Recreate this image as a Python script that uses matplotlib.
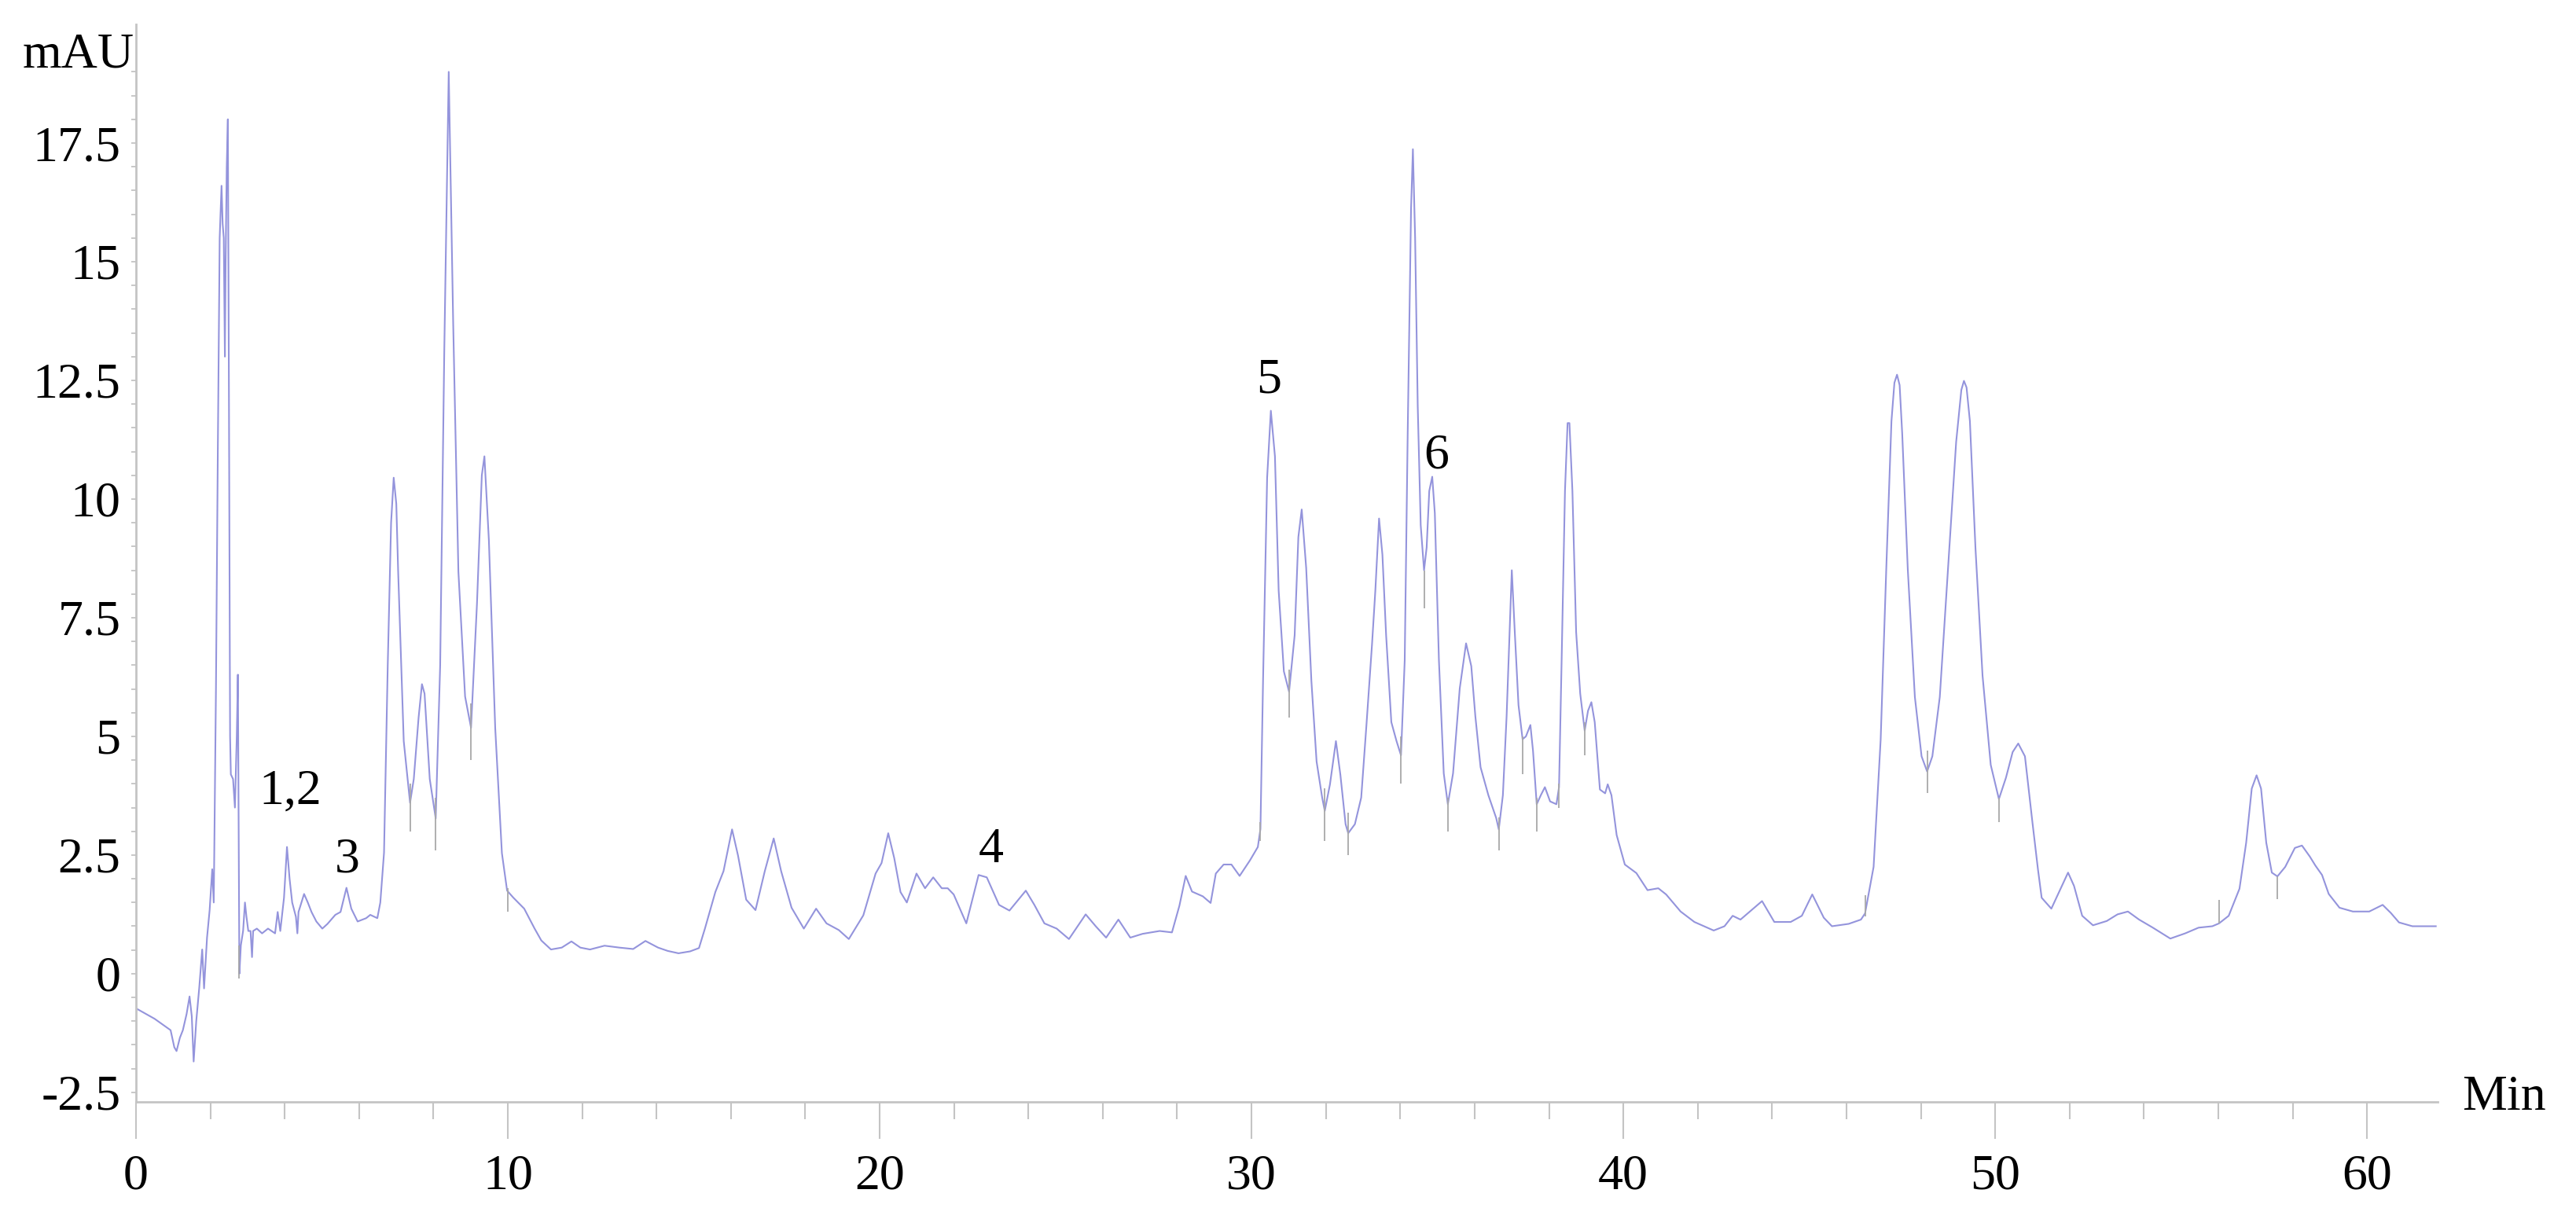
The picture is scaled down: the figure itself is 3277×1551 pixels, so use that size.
import matplotlib
matplotlib.use('Agg')
import matplotlib.pyplot as plt
from matplotlib.ticker import MultipleLocator, FixedLocator, FuncFormatter

# chromatogram trace (retention time in min, absorbance in mAU)
time_min = [
    0.00, 0.50, 0.93, 1.03, 1.09, 1.18, 1.26, 1.36, 1.44, 1.50,
    1.55, 1.62, 1.70, 1.78, 1.83, 1.91, 1.98, 2.05, 2.09, 2.10,
    2.15, 2.20, 2.25, 2.30, 2.33, 2.36, 2.39, 2.41, 2.44, 2.47,
    2.50, 2.53, 2.55, 2.61, 2.66, 2.71, 2.74, 2.76, 2.78, 2.82,
    2.88, 2.93, 2.97, 3.02, 3.08, 3.12, 3.15, 3.25, 3.39, 3.55,
    3.74, 3.81, 3.88, 3.98, 4.06, 4.13, 4.20, 4.30, 4.34, 4.37,
    4.52, 4.62, 4.72, 4.85, 5.01, 5.15, 5.36, 5.50, 5.66, 5.79,
    5.96, 6.19, 6.30, 6.49, 6.57, 6.67, 6.77, 6.86, 6.93, 7.00,
    7.05, 7.20, 7.37, 7.47, 7.60, 7.69, 7.76, 7.90, 8.06, 8.18,
    8.29, 8.41, 8.53, 8.67, 8.85, 9.01, 9.17, 9.30, 9.37, 9.49,
    9.66, 9.84, 9.98, 10.15, 10.44, 10.72, 10.90, 11.16, 11.45, 11.71,
    11.95, 12.21, 12.60, 13.00, 13.37, 13.70, 14.04, 14.30, 14.59, 14.90,
    15.14, 15.30, 15.58, 15.80, 16.03, 16.19, 16.41, 16.66, 16.91, 17.15,
    17.35, 17.63, 17.96, 18.29, 18.57, 18.90, 19.17, 19.56, 19.89, 20.05,
    20.23, 20.39, 20.56, 20.73, 20.99, 21.22, 21.44, 21.67, 21.83, 21.99,
    22.33, 22.66, 22.88, 23.21, 23.49, 23.93, 24.16, 24.43, 24.76, 25.09,
    25.54, 25.81, 26.09, 26.42, 26.74, 27.07, 27.53, 27.86, 28.06, 28.23,
    28.40, 28.69, 28.90, 29.04, 29.25, 29.46, 29.68, 29.96, 30.17, 30.24,
    30.31, 30.42, 30.52, 30.63, 30.73, 30.87, 31.01, 31.16, 31.26, 31.35,
    31.47, 31.61, 31.75, 31.90, 31.97, 32.11, 32.27, 32.39, 32.53, 32.60,
    32.78, 32.95, 33.09, 33.24, 33.33, 33.43, 33.52, 33.62, 33.76, 33.90,
    34.02, 34.12, 34.20, 34.29, 34.34, 34.40, 34.47, 34.55, 34.64, 34.71,
    34.78, 34.86, 34.93, 35.04, 35.17, 35.28, 35.42, 35.60, 35.77, 35.91,
    36.02, 36.16, 36.37, 36.58, 36.65, 36.76, 36.86, 36.94, 37.00, 37.08,
    37.18, 37.29, 37.38, 37.50, 37.57, 37.67, 37.78, 37.89, 38.03, 38.20,
    38.27, 38.34, 38.43, 38.50, 38.55, 38.63, 38.73, 38.84, 38.96, 39.05,
    39.14, 39.23, 39.37, 39.51, 39.58, 39.68, 39.82, 40.04, 40.35, 40.65,
    40.94, 41.15, 41.54, 41.91, 42.43, 42.72, 42.94, 43.15, 43.73, 44.06,
    44.50, 44.80, 45.08, 45.39, 45.61, 46.06, 46.39, 46.50, 46.73, 46.92,
    47.07, 47.21, 47.29, 47.36, 47.43, 47.50, 47.65, 47.84, 48.02, 48.17,
    48.31, 48.51, 48.73, 48.95, 49.09, 49.16, 49.23, 49.32, 49.47, 49.66,
    49.88, 50.10, 50.29, 50.47, 50.62, 50.80, 51.00, 51.15, 51.25, 51.51,
    51.76, 51.96, 52.12, 52.34, 52.63, 53.00, 53.29, 53.57, 53.87, 54.24,
    54.71, 55.11, 55.47, 55.84, 56.02, 56.28, 56.57, 56.75, 56.90, 57.03,
    57.15, 57.29, 57.44, 57.59, 57.80, 58.06, 58.25, 58.46, 58.61, 58.79,
    58.97, 59.26, 59.62, 60.06, 60.42, 60.64, 60.86, 61.22, 61.59, 61.85,
]
signal_mau = [
    -0.73, -0.95, -1.19, -1.55, -1.63, -1.35, -1.19, -0.85, -0.48, -0.90,
    -1.85, -1.00, -0.30, 0.51, -0.31, 0.76, 1.34, 2.20, 1.50, 2.20,
    6.00, 11.00, 15.50, 16.60, 15.80, 15.50, 13.00, 15.00, 17.00, 18.00,
    12.00, 5.00, 4.20, 4.10, 3.50, 5.00, 6.30, 3.00, 0.00, 0.60,
    0.90, 1.50, 1.20, 0.90, 0.90, 0.35, 0.90, 0.95, 0.85, 0.95,
    0.85, 1.30, 0.90, 1.60, 2.67, 2.00, 1.50, 1.20, 0.85, 1.30,
    1.68, 1.50, 1.30, 1.10, 0.95, 1.05, 1.24, 1.30, 1.81, 1.37,
    1.10, 1.17, 1.24, 1.17, 1.50, 2.55, 6.50, 9.50, 10.45, 9.90,
    8.47, 4.90, 3.60, 4.10, 5.40, 6.10, 5.90, 4.10, 3.27, 6.50,
    13.10, 19.00, 13.70, 8.47, 5.84, 5.18, 7.80, 10.50, 10.90, 9.13,
    5.18, 2.54, 1.75, 1.60, 1.37, 0.95, 0.70, 0.51, 0.55, 0.68,
    0.55, 0.51, 0.59, 0.55, 0.52, 0.69, 0.55, 0.48, 0.43, 0.47,
    0.54, 0.95, 1.72, 2.16, 3.04, 2.49, 1.56, 1.34, 2.16, 2.85,
    2.16, 1.39, 0.95, 1.37, 1.06, 0.92, 0.73, 1.23, 2.11, 2.33,
    2.96, 2.44, 1.72, 1.50, 2.11, 1.80, 2.03, 1.80, 1.80, 1.67,
    1.06, 2.08, 2.03, 1.45, 1.33, 1.75, 1.45, 1.06, 0.95, 0.73,
    1.25, 1.00, 0.76, 1.14, 0.76, 0.84, 0.90, 0.87, 1.43, 2.06,
    1.73, 1.63, 1.49, 2.11, 2.30, 2.30, 2.06, 2.39, 2.67, 3.05,
    6.17, 10.45, 11.86, 10.90, 8.07, 6.37, 5.94, 7.13, 9.20, 9.78,
    8.55, 6.17, 4.47, 3.71, 3.43, 3.99, 4.90, 4.19, 3.15, 2.96,
    3.15, 3.71, 5.23, 6.93, 8.07, 9.59, 8.83, 7.13, 5.30, 4.90,
    4.60, 6.60, 11.37, 16.10, 17.37, 15.50, 11.96, 9.45, 8.50, 8.98,
    10.17, 10.47, 9.70, 6.60, 4.22, 3.57, 4.22, 6.01, 6.96, 6.48,
    5.42, 4.35, 3.76, 3.28, 3.04, 3.76, 5.42, 7.20, 8.50, 7.20,
    5.66, 4.94, 5.00, 5.24, 4.70, 3.57, 3.76, 3.93, 3.63, 3.57,
    3.93, 6.60, 10.17, 11.60, 11.60, 10.17, 7.20, 5.90, 5.12, 5.54,
    5.72, 5.30, 3.88, 3.80, 3.99, 3.76, 2.92, 2.30, 2.12, 1.76,
    1.80, 1.67, 1.31, 1.09, 0.91, 1.00, 1.22, 1.14, 1.53, 1.09,
    1.09, 1.22, 1.67, 1.18, 1.00, 1.05, 1.14, 1.27, 2.25, 4.93,
    8.51, 11.64, 12.45, 12.62, 12.40, 11.37, 8.51, 5.83, 4.58, 4.26,
    4.58, 5.83, 8.51, 11.20, 12.30, 12.49, 12.35, 11.64, 8.96, 6.28,
    4.40, 3.68, 4.13, 4.67, 4.85, 4.58, 3.20, 2.20, 1.60, 1.37,
    1.79, 2.13, 1.85, 1.22, 1.02, 1.11, 1.25, 1.31, 1.14, 0.97,
    0.74, 0.85, 0.97, 1.00, 1.06, 1.22, 1.79, 2.76, 3.90, 4.18,
    3.90, 2.76, 2.13, 2.05, 2.25, 2.65, 2.70, 2.47, 2.28, 2.08,
    1.68, 1.39, 1.31, 1.31, 1.45, 1.28, 1.08, 1.00, 1.00, 1.00,
]

# integration marks (short vertical ticks at peak boundaries)
mark_t = [2.77, 7.37, 8.06, 9.01, 9.99, 30.24, 31.01, 31.97, 32.60, 34.02,
          34.64, 35.28, 36.65, 37.29, 37.67, 38.27, 38.96, 46.50, 48.17, 50.10,
          56.02, 57.59]
mark_lo = [-0.1, 3.0, 2.6, 4.5, 1.3, 2.8, 5.4, 2.8, 2.5, 4.0,
           7.7, 3.0, 2.6, 4.2, 3.0, 3.5, 4.6, 1.2, 3.8, 3.2,
           1.06, 1.57]
mark_hi = [0.6, 4.0, 3.7, 5.7, 1.8, 3.2, 6.4, 3.9, 3.4, 5.0,
           8.5, 3.7, 3.3, 5.0, 3.7, 4.0, 5.3, 1.65, 4.7, 3.7,
           1.55, 2.05]

# peak labels
peak_names = ['1,2', '3', '4', '5', '6']
peak_x = [4.15, 5.68, 22.99, 30.47, 34.96]
peak_y = [3.58, 2.14, 2.35, 12.25, 10.65]

plt.rcParams['font.family'] = ['Liberation Serif', 'DejaVu Serif']
plt.rcParams['axes.unicode_minus'] = False

fig = plt.figure(figsize=(32.77, 15.51), dpi=100)
ax = fig.add_axes([0.0528, 0.0961, 0.8935, 0.8839])

line_col = '#9494dc'
axis_col = '#c4c4c4'

ax.plot(time_min, signal_mau, color=line_col, lw=1.5, solid_joinstyle='round')
ax.vlines(mark_t, mark_lo, mark_hi, color='#a8a8a8', lw=1.3)

for name, x, y in zip(peak_names, peak_x, peak_y):
    ax.text(x, y, name, ha='center', va='baseline', fontsize=46)

ax.set_xlim(0, 61.9)
ax.set_ylim(-2.7, 20.0)

for side in ['top', 'right']:
    ax.spines[side].set_visible(False)
for side in ['left', 'bottom']:
    ax.spines[side].set_color(axis_col)
    ax.spines[side].set_linewidth(2.0)

ax.xaxis.set_major_locator(MultipleLocator(10))
ax.xaxis.set_minor_locator(MultipleLocator(2))
ax.yaxis.set_major_locator(FixedLocator([-2.5, 0, 2.5, 5, 7.5, 10, 12.5, 15, 17.5]))
ax.yaxis.set_minor_locator(FixedLocator([v * 0.5 for v in range(-5, 39)]))
ax.yaxis.set_major_formatter(FuncFormatter(lambda v, p: '%g' % v))

ax.tick_params(axis='x', which='major', direction='out', length=34, width=1.5,
               color=axis_col, labelsize=46, pad=14)
ax.tick_params(axis='x', which='minor', direction='out', length=16, width=1.5,
               color=axis_col)
ax.tick_params(axis='y', which='major', direction='out', length=4, width=1.3,
               color=axis_col, labelsize=46, pad=10)
ax.tick_params(axis='y', which='minor', direction='out', length=4, width=1.3,
               color=axis_col)

ax.text(-0.05, 19.35, 'mAU', ha='right', va='center', fontsize=46, clip_on=False)
ax.text(62.55, -2.62, 'Min', ha='left', va='center', fontsize=46, clip_on=False)

fig.savefig('out.png', dpi=100)
